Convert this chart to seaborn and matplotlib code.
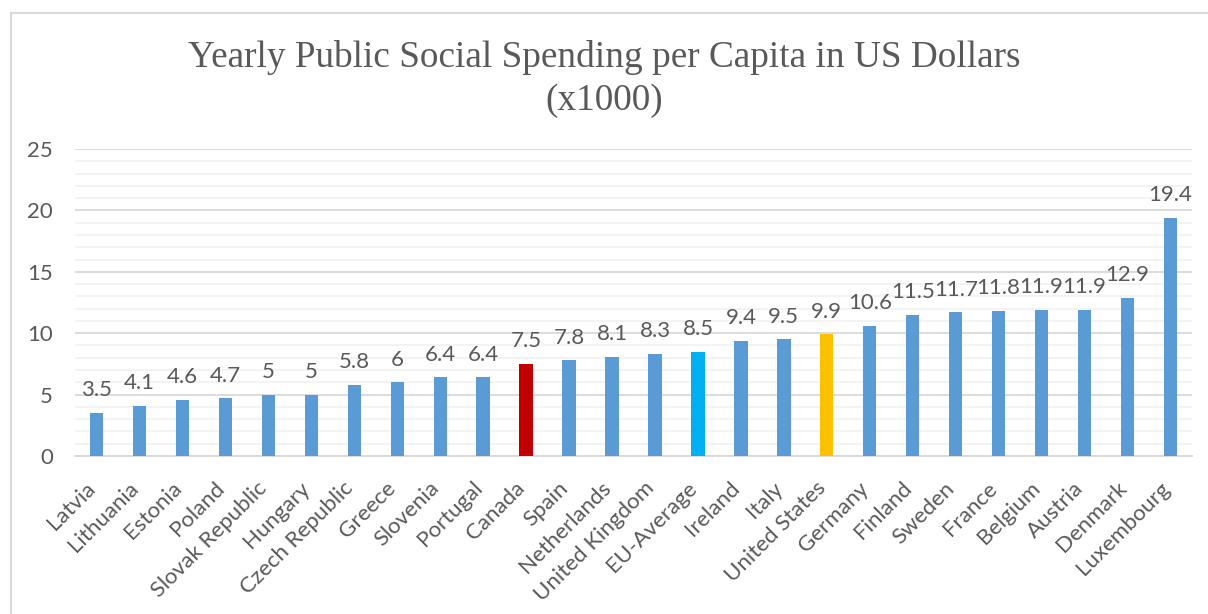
import matplotlib
matplotlib.use("Agg")
import matplotlib.pyplot as plt
from matplotlib.patches import Rectangle
from matplotlib.ticker import MultipleLocator
import seaborn as sns

countries = ["Latvia", "Lithuania", "Estonia", "Poland", "Slovak Republic", "Hungary",
             "Czech Republic", "Greece", "Slovenia", "Portugal", "Canada", "Spain",
             "Netherlands", "United Kingdom", "EU-Average", "Ireland", "Italy",
             "United States", "Germany", "Finland", "Sweden", "France", "Belgium",
             "Austria", "Denmark", "Luxembourg"]
spending = [3.5, 4.1, 4.6, 4.7, 5, 5, 5.8, 6, 6.4, 6.4, 7.5, 7.8, 8.1, 8.3, 8.5, 9.4,
            9.5, 9.9, 10.6, 11.5, 11.7, 11.8, 11.9, 11.9, 12.9, 19.4]
label_text = ["3.5", "4.1", "4.6", "4.7", "5", "5", "5.8", "6", "6.4", "6.4", "7.5",
              "7.8", "8.1", "8.3", "8.5", "9.4", "9.5", "9.9", "10.6", "11.5", "11.7",
              "11.8", "11.9", "11.9", "12.9", "19.4"]
y_ticks = [0, 5, 10, 15, 20, 25]
highlight = {"Canada": "#C00000", "EU-Average": "#00B0F0", "United States": "#FFC000"}
base_color = "#5B9BD5"
colors = [highlight.get(c, base_color) for c in countries]

sns.set_theme(style="white")
plt.rcParams["font.family"] = ["Lato", "DejaVu Sans"]
text_color = "#595959"
label_size = 16

fig = plt.figure(figsize=(12.08, 6.14), dpi=100)
W, H = 1208, 614
ax = fig.add_axes([75 / W, 1 - 456 / H, (1192 - 75) / W, (456 - 149) / H])

sns.barplot(x=countries, y=spending, hue=countries, palette=colors, legend=False,
            width=0.31, saturation=1, linewidth=0, ax=ax, zorder=3)

ax.set_xlim(-0.5, len(countries) - 0.5)
ax.set_ylim(0, 25)
ax.yaxis.set_minor_locator(MultipleLocator(1))
ax.grid(which="major", axis="y", color="#D9D9D9", lw=1.3, zorder=0)
ax.grid(which="minor", axis="y", color="#F2F2F2", lw=1.3, zorder=0)
ax.set_axisbelow(True)
for s in ["top", "right", "left"]:
    ax.spines[s].set_visible(False)
ax.spines["bottom"].set_color("#D9D9D9")
ax.spines["bottom"].set_linewidth(1.3)
ax.tick_params(axis="both", which="both", length=0, colors=text_color,
               labelsize=label_size)
ax.set_xlabel("")
ax.set_ylabel("")
ax.set_yticks(y_ticks)
ax.set_yticklabels([str(t) for t in y_ticks])
ax.tick_params(axis="y", pad=16)

ax.set_xticks(range(len(countries)))
ax.set_xticklabels(countries, rotation=45, ha="right", va="baseline",
                   rotation_mode="anchor")
ax.tick_params(axis="x", pad=24)

for i, (v, t) in enumerate(zip(spending, label_text)):
    ax.annotate(t, (i, v), xytext=(0, 12), textcoords="offset points",
                ha="center", va="baseline", fontsize=label_size, color=text_color)

fig.text(0.5, 1 - 79 / H, "Yearly Public Social Spending per Capita in US Dollars\n(x1000)",
         ha="center", va="center", fontsize=26.8, color=text_color,
         family="Liberation Serif", linespacing=1.3)

fig.patches.append(Rectangle((11 / W, -0.1), 2, 1 - 13 / H + 0.1,
                             transform=fig.transFigure, fill=False,
                             edgecolor="#D9D9D9", lw=1.5))

fig.savefig("out.png", dpi=100, facecolor="white")
